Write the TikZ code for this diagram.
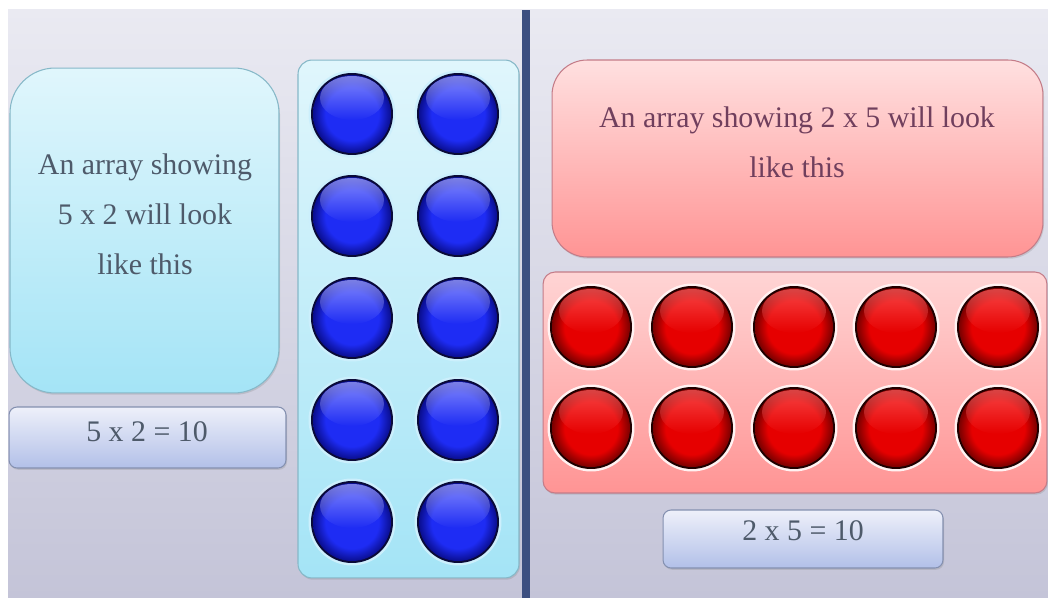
\documentclass[tikz,border=0pt]{standalone}
\usepackage{fontspec}
\setmainfont{Liberation Serif}
\usepackage{tikz}
\usetikzlibrary{shadows}
\usetikzlibrary{fadings}
\definecolor{bgtop}{HTML}{EAEAF2}
\definecolor{bgbot}{HTML}{C4C4D8}
\definecolor{divider}{HTML}{3C4F80}
\definecolor{cyantop}{HTML}{E0F6FC}
\definecolor{cyanbot}{HTML}{A4E4F6}
\definecolor{cyanedge}{HTML}{86B8C8}
\definecolor{eqtop}{HTML}{EEF0FA}
\definecolor{eqbot}{HTML}{B2C0E8}
\definecolor{eqedge}{HTML}{8490B0}
\definecolor{pinktop}{HTML}{FFE0E0}
\definecolor{pinkbot}{HTML}{FF9494}
\definecolor{pinkedge}{HTML}{C47C88}
\definecolor{textgrey}{HTML}{4E5A6A}
\definecolor{bluerim}{HTML}{0A0A38}
\definecolor{bluehi}{HTML}{A0A4FF}
\definecolor{bluemid}{HTML}{1E2CF4}
\definecolor{bluelo}{HTML}{0A0E90}
\definecolor{redrim}{HTML}{200000}
\definecolor{redhi}{HTML}{FF6060}
\definecolor{redmid}{HTML}{E60000}
\definecolor{redlo}{HTML}{7A0000}
\pgfdeclareradialshading{bluebody}{\pgfpoint{0bp}{0bp}}{color(0bp)=(bluemid); color(17bp)=(bluemid); color(25bp)=(bluelo); color(50bp)=(bluelo)}
\pgfdeclareradialshading{redbody}{\pgfpoint{0bp}{0bp}}{color(0bp)=(redmid); color(17bp)=(redmid); color(25bp)=(redlo); color(50bp)=(redlo)}

\begin{document}
\begin{tikzpicture}[x=0.02cm, y=-0.02cm,
    panel/.style={draw=#1, line width=0.6pt, drop shadow={opacity=0.25, shadow xshift=0.6pt, shadow yshift=-1pt}},
    words/.style={text=textgrey, align=center, font=\fontsize{17}{28.5}\selectfont}]
  \fill[white] (0,0) rectangle (1048,598);
  \useasboundingbox (0,0) rectangle (1048,598);
  \shade[top color=bgtop, bottom color=bgbot] (8,10) rectangle (1048,598); % slide
  \fill[divider] (522,10) rectangle (530,598);

  % left half: 5 x 2
  \node[panel=cyanedge, top color=cyantop, bottom color=cyanbot, rounded corners=0.9cm,
        minimum width=5.38cm, minimum height=6.5cm] (leftbox) at (144.5,230.5) {};
  \node[words] (lefttext) at (145,214) {An array showing\\5 x 2 will look\\like this};
  \node[panel=eqedge, top color=eqtop, bottom color=eqbot, rounded corners=0.16cm,
        minimum width=5.54cm, minimum height=1.22cm] (lefteq) at (147.5,437.5) {};
  \node[words] (lefteqtext) at (147,432) {5 x 2 = 10};
  \node[panel=cyanedge, top color=cyantop, bottom color=cyanbot, rounded corners=0.28cm,
        minimum width=4.42cm, minimum height=10.36cm] (bluepanel) at (408.5,319) {};
  \foreach \c in {352,458}
    \foreach \r in {114,216,318,420,522} {
      \fill[white!80!cyan] (\c,\r) circle [radius=0.87cm];
      \fill[bluerim] (\c,\r) circle [radius=0.82cm];
      \shade[shading=bluebody] (\c,\r) circle [radius=0.78cm];
      \fill[bluehi, path fading=south, fill opacity=0.75] (\c,\r-16) ellipse [x radius=0.64cm, y radius=0.44cm];
    }

  % right half: 2 x 5
  \node[panel=pinkedge, top color=pinktop, bottom color=pinkbot, rounded corners=0.7cm,
        minimum width=9.82cm, minimum height=3.94cm] (pinkbox) at (797.5,158.5) {};
  \node[words, text=textgrey!70!purple] (righttext) at (797,142) {An array showing 2 x 5 will look\\like this};
  \node[panel=pinkedge, top color=pinktop!85!pinkbot, bottom color=pinkbot, rounded corners=0.24cm,
        minimum width=10.08cm, minimum height=4.42cm] (redpanel) at (795,382.5) {};
  \foreach \c in {591,692,794,896,998}
    \foreach \r in {327,428} {
      \fill[white!80!pink] (\c,\r) circle [radius=0.87cm];
      \fill[redrim] (\c,\r) circle [radius=0.82cm];
      \shade[shading=redbody] (\c,\r) circle [radius=0.78cm];
      \fill[redhi, path fading=south, fill opacity=0.7] (\c,\r-16) ellipse [x radius=0.64cm, y radius=0.44cm];
    }
  \node[panel=eqedge, top color=eqtop, bottom color=eqbot, rounded corners=0.16cm,
        minimum width=5.6cm, minimum height=1.16cm] (righteq) at (803,539) {};
  \node[words] (righteqtext) at (803,531) {2 x 5 = 10};
\end{tikzpicture}
\end{document}
